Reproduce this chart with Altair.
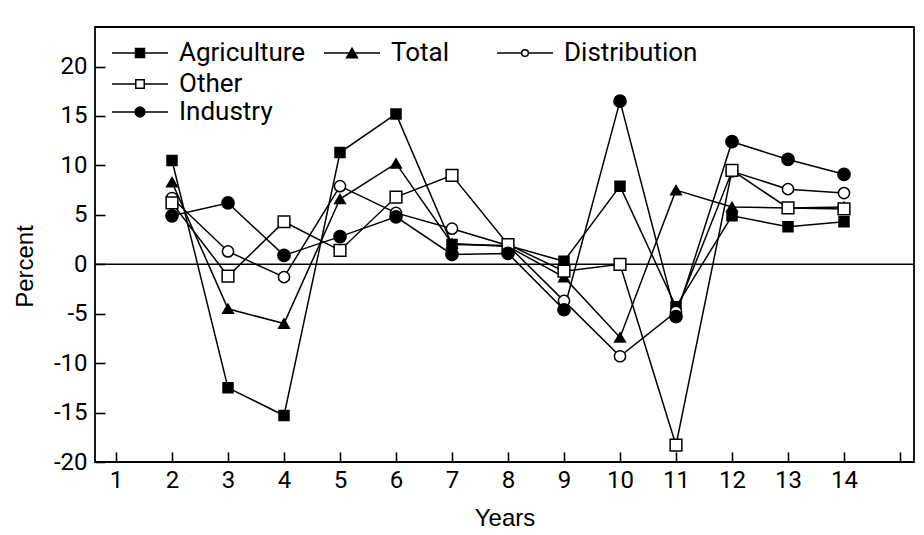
import altair as alt
import pandas as pd

# ---- data ----
years = list(range(2, 15))
agriculture = [10.5, -12.5, -15.3, 11.3, 15.2, 2.0, 1.9, 0.3, 7.9, -4.3, 4.9, 3.8, 4.3]
total = [8.3, -4.5, -6.0, 6.6, 10.2, 2.1, 1.8, -1.3, -7.4, 7.5, 5.8, 5.7, 5.8]
distribution = [6.7, 1.3, -1.3, 7.9, 5.2, 3.6, 1.9, -3.7, -9.3, -4.8, 9.4, 7.6, 7.2]
other = [6.2, -1.2, 4.3, 1.4, 6.8, 9.0, 2.0, -0.7, 0.0, -18.3, 9.5, 5.7, 5.6]
industry = [4.9, 6.2, 0.9, 2.8, 4.8, 1.0, 1.1, -4.6, 16.5, -5.3, 12.4, 10.6, 9.1]

series_names = ["Agriculture", "Total", "Distribution", "Other", "Industry"]
x_ticks = list(range(1, 16))
y_ticks = list(range(-20, 21, 5))

values = {
    "Agriculture": agriculture,
    "Total": total,
    "Distribution": distribution,
    "Other": other,
    "Industry": industry,
}
rows = []
for name in series_names:
    for yr, v in zip(years, values[name]):
        rows.append({"series": name, "year": yr, "value": v})
df = pd.DataFrame(rows)
zero_df = pd.DataFrame({"z": [0]})
one_df = pd.DataFrame({"k": [0]})

# ---- styling ----
TICK_FONT = "Roboto"
TITLE_FONT = "Liberation Sans"
marker_shape = {"Agriculture": "square", "Total": "triangle-up", "Distribution": "circle",
                "Other": "square", "Industry": "circle"}
marker_fill = {"Agriculture": "black", "Total": "black", "Distribution": "white",
               "Other": "white", "Industry": "black"}
marker_size = {"Agriculture": 100, "Total": 150, "Distribution": 80,
               "Other": 90, "Industry": 120}

x_enc = alt.X(
    "year:Q",
    scale=alt.Scale(domain=[0.625, 15.25], nice=False, zero=False),
    axis=alt.Axis(
        values=x_ticks,
        title="Years",
        labelExpr="datum.value == 15 ? '' : datum.label",
        tickSize=10, offset=-10, domain=False, grid=False,
        tickColor="black", tickWidth=1.6,
        labelFont=TICK_FONT, labelFontSize=24, labelColor="black", labelPadding=6,
        titleFont=TITLE_FONT, titleFontSize=24, titleFontWeight="normal",
        titleColor="black", titlePadding=14,
    ),
)
y_enc = alt.Y(
    "value:Q",
    scale=alt.Scale(domain=[-20, 24], nice=False, zero=False),
    axis=alt.Axis(
        values=y_ticks,
        title="Percent",
        labelExpr="'' + datum.value",
        tickSize=10, offset=-10, domain=False, grid=False,
        tickColor="black", tickWidth=1.6,
        labelFont=TICK_FONT, labelFontSize=24, labelColor="black", labelPadding=8,
        titleFont=TITLE_FONT, titleFontSize=24, titleFontWeight="normal",
        titleColor="black", titlePadding=16, titleY=239,
    ),
)

zero_line = alt.Chart(zero_df).mark_rule(color="black", strokeWidth=1.5).encode(
    y=alt.Y("z:Q", scale=alt.Scale(domain=[-20, 24], nice=False, zero=False))
)

lines = alt.Chart(df).mark_line(color="black", strokeWidth=1.5).encode(
    x=x_enc, y=y_enc, detail="series:N"
)

points = alt.Chart(df).mark_point(filled=True, stroke="black", strokeWidth=1.5, opacity=1).encode(
    x=x_enc,
    y=y_enc,
    shape=alt.Shape("series:N", legend=None, scale=alt.Scale(
        domain=series_names, range=[marker_shape[s] for s in series_names])),
    fill=alt.Fill("series:N", legend=None, scale=alt.Scale(
        domain=series_names, range=[marker_fill[s] for s in series_names])),
    size=alt.Size("series:N", legend=None, scale=alt.Scale(
        domain=series_names, range=[marker_size[s] for s in series_names])),
)

# ---- hand-drawn legend (line + marker + label), three columns / three rows ----
legend_slots = {"Agriculture": (0, 0), "Total": (0, 1), "Distribution": (0, 2),
                "Other": (1, 0), "Industry": (2, 0)}
col_x = [17, 229, 402]      # left end of legend line, px from plot left
row_y = [26, 57, 85]        # px from plot top
legend_layers = []
for name in series_names:
    r, c = legend_slots[name]
    x0 = col_x[c]
    yy = row_y[r]
    legend_layers.append(
        alt.Chart(one_df).mark_rule(color="black", strokeWidth=1.5).encode(
            x=alt.value(x0), x2=alt.value(x0 + 56), y=alt.value(yy))
    )
    legend_layers.append(
        alt.Chart(one_df).mark_point(
            shape=marker_shape[name], filled=True, fill=marker_fill[name],
            stroke="black", strokeWidth=1.5, opacity=1,
            size=45 if name == "Distribution" else marker_size[name] * 0.8,
        ).encode(x=alt.value(x0 + 28), y=alt.value(yy))
    )
    legend_layers.append(
        alt.Chart(one_df).mark_text(
            text=name, align="left", baseline="middle", font=TICK_FONT,
            fontSize=26, color="black",
        ).encode(x=alt.value(x0 + 67), y=alt.value(yy))
    )

chart = alt.layer(zero_line, lines, points, *legend_layers).resolve_scale(
    shape="independent", fill="independent", size="independent"
).properties(
    width=819,
    height=435,
    padding={"left": 87, "top": 19, "right": 2, "bottom": 70},
    autosize=alt.AutoSizeParams(type="none"),
    background="white",
).configure_view(stroke="black", strokeWidth=1.8)

chart.save("out.html", embed_options={"renderer": "svg", "actions": False})
